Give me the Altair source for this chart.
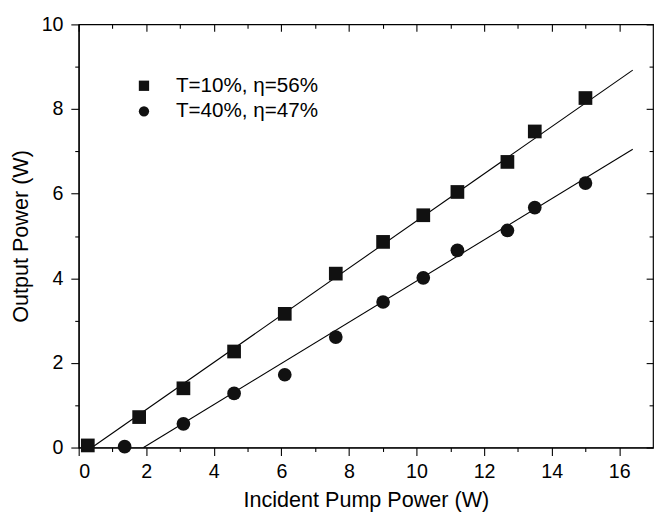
import altair as alt
import pandas as pd

series_names = ["T=10%, η=56%", "T=40%, η=47%"]

pump_T10 = [0.27, 1.79, 3.10, 4.60, 6.10, 7.61, 9.01, 10.20, 11.21, 12.69, 13.50, 15.00]
out_T10 = [0.05, 0.72, 1.40, 2.27, 3.16, 4.11, 4.86, 5.49, 6.04, 6.75, 7.47, 8.26]

pump_T40 = [1.36, 3.10, 4.60, 6.10, 7.61, 9.01, 10.20, 11.21, 12.69, 13.50, 15.00]
out_T40 = [0.02, 0.56, 1.28, 1.72, 2.61, 3.44, 4.01, 4.66, 5.13, 5.67, 6.25]

fit_T10_x = [0.39, 16.40]
fit_T10_y = [0.00, 8.92]
fit_T40_x = [1.92, 16.40]
fit_T40_y = [0.00, 7.05]

x_major = [0, 2, 4, 6, 8, 10, 12, 14, 16]
x_minor = [1, 3, 5, 7, 9, 11, 13, 15]
y_major = [0, 2, 4, 6, 8, 10]
y_minor = [1, 3, 5, 7, 9]

pts = pd.DataFrame({
    "pump": pump_T10 + pump_T40,
    "out": out_T10 + out_T40,
    "series": [series_names[0]] * len(pump_T10) + [series_names[1]] * len(pump_T40),
})
fits = pd.DataFrame({
    "pump": fit_T10_x + fit_T40_x,
    "out": fit_T10_y + fit_T40_y,
    "series": [series_names[0]] * 2 + [series_names[1]] * 2,
})

FONT = "Liberation Sans"
xs = alt.Scale(domain=[0, 17], nice=False, zero=False)
ys = alt.Scale(domain=[0, 10], nice=False)

lines = alt.Chart(fits).mark_line(color="black", strokeWidth=1.1).encode(
    x=alt.X("pump:Q", scale=xs, axis=alt.Axis(
        values=x_major, tickSize=8, format="d", title="Incident Pump Power (W)",
        labelPadding=7, titlePadding=8)),
    y=alt.Y("out:Q", scale=ys, axis=alt.Axis(
        values=y_major, tickSize=8, format="d", title="Output Power (W)",
        labelPadding=8, titlePadding=9)),
    detail="series:N",
)

points = alt.Chart(pts).mark_point(filled=True, opacity=1, color="#111111", size=195).encode(
    x=alt.X("pump:Q", scale=xs, axis=None),
    y=alt.Y("out:Q", scale=ys, axis=None),
    shape=alt.Shape("series:N", scale=alt.Scale(domain=series_names, range=["square", "circle"]),
                    legend=alt.Legend(orient="none", legendX=56, legendY=52, title=None,
                                      labelFontSize=21, labelFont=FONT, labelColor="black",
                                      symbolSize=110, symbolFillColor="#111111",
                                      symbolStrokeColor="#111111", symbolOpacity=1,
                                      rowPadding=4, labelOffset=22, padding=0)),
)


def tick_layer(x_axis, y_axis):
    return alt.Chart(pts).mark_point(opacity=0).encode(
        x=alt.X("pump:Q", scale=xs, axis=x_axis),
        y=alt.Y("out:Q", scale=ys, axis=y_axis),
    )


def ax(orient, values, size, offset=0):
    return alt.Axis(orient=orient, values=values, tickSize=size, offset=offset,
                    labels=False, domain=False, title=None)


layers = [
    lines,
    points,
    tick_layer(ax("bottom", x_minor, 4), ax("left", y_minor, 4)),
    tick_layer(ax("top", x_major, 7, -7), ax("right", y_major, 7, -7)),
    tick_layer(ax("top", x_minor, 4, -4), ax("right", y_minor, 4, -4)),
]

chart = alt.layer(*layers).resolve_axis(x="independent", y="independent").properties(
    width=585, height=431,
    autosize=alt.AutoSizeParams(type="none"),
    padding={"left": 72, "top": 12, "right": 1, "bottom": 64},
).configure_view(stroke="black", strokeWidth=1.2).configure_axis(
    grid=False, labelFont=FONT, titleFont=FONT, labelFontSize=20, titleFontSize=22,
    titleFontWeight="normal", labelColor="black", titleColor="black",
    tickColor="black", domainColor="black", tickWidth=1.1, domainWidth=1.2,
)

chart.save("out.html", embed_options={"renderer": "svg", "actions": False})
